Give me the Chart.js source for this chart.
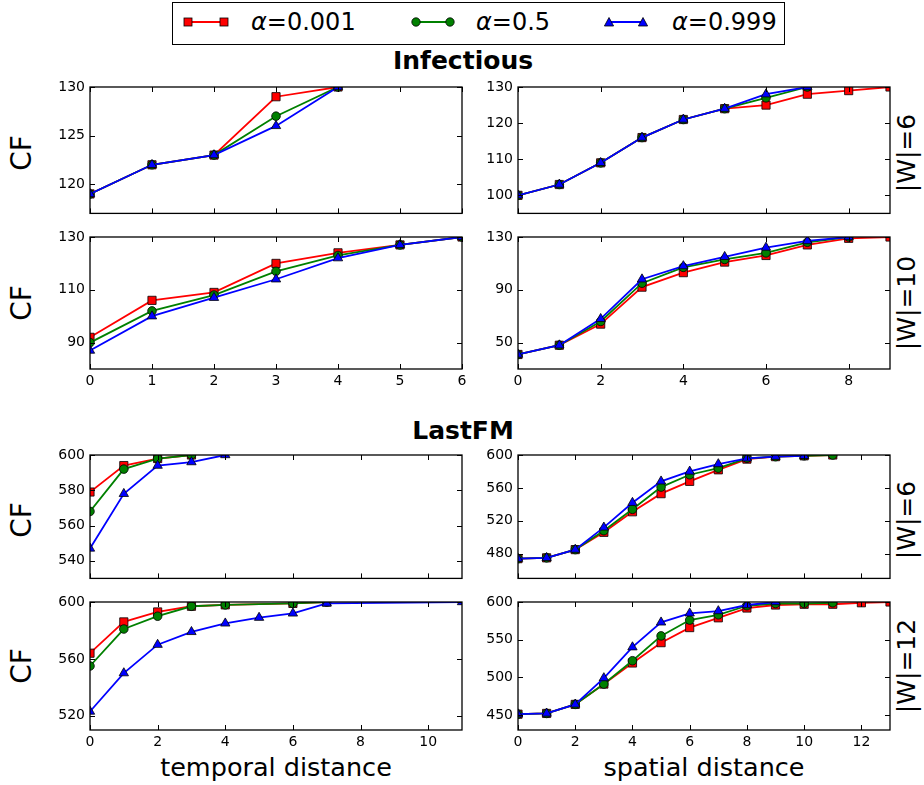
<!DOCTYPE html>
<html>
<head>
<meta charset="utf-8">
<script src="https://cdn.jsdelivr.net/npm/chart.js@4.4.1/dist/chart.umd.min.js"></script>
<style>
  html, body { margin: 0; padding: 0; background: #fff; }
  body { width: 924px; height: 785px; position: relative; overflow: hidden;
         font-family: 'DejaVu Sans', sans-serif; color: #000; }
  .panel { position: absolute; }
  .txt { position: absolute; white-space: nowrap; line-height: 1; }
  .rot { transform: translate(-50%, -50%) rotate(-90deg); }
  .hc { transform: translateX(-50%); }
  .title { font-weight: bold; font-size: 25px; }
  .axlab { font-size: 25.5px; }
  .rowlab { font-size: 28px; }
  .sidelab { font-size: 25px; }
  #legend { position: absolute; left: 172px; top: 2px; width: 611px; height: 41px;
            border: 1px solid #000; }
  .legtxt { font-size: 24px; }
  .legtxt i { font-family: 'DejaVu Sans', sans-serif; font-style: italic; }
</style>
</head>
<body>

<div id="legend"></div>
<svg style="position:absolute;left:0;top:0" width="924" height="50">
  <line x1="188" y1="22" x2="224" y2="22" stroke="#ff0000" stroke-width="1.8"/>
  <rect x="184" y="18" width="8" height="8" fill="#ff0000" stroke="#000" stroke-width="0.8"/>
  <rect x="220" y="18" width="8" height="8" fill="#ff0000" stroke="#000" stroke-width="0.8"/>
  <line x1="416" y1="22" x2="450" y2="22" stroke="#008000" stroke-width="1.8"/>
  <circle cx="416" cy="22" r="4.2" fill="#008000" stroke="#000" stroke-width="0.8"/>
  <circle cx="450" cy="22" r="4.2" fill="#008000" stroke="#000" stroke-width="0.8"/>
  <line x1="609" y1="22" x2="643" y2="22" stroke="#0000ff" stroke-width="1.8"/>
  <polygon points="609,17.5 613.6,26 604.4,26" fill="#0000ff" stroke="#000" stroke-width="0.8"/>
  <polygon points="643,17.5 647.6,26 638.4,26" fill="#0000ff" stroke="#000" stroke-width="0.8"/>
</svg>
<div class="txt legtxt" style="left:251px;top:10px"><i>α</i>=0.001</div>
<div class="txt legtxt" style="left:476px;top:10px"><i>α</i>=0.5</div>
<div class="txt legtxt" style="left:672px;top:10px"><i>α</i>=0.999</div>

<div class="txt title hc" style="left:463px;top:48px">Infectious</div>
<div class="txt title hc" style="left:463px;top:418px">LastFM</div>

<div class="txt rowlab rot" style="left:22px;top:153px">CF</div>
<div class="txt rowlab rot" style="left:22px;top:303px">CF</div>
<div class="txt rowlab rot" style="left:22px;top:520px">CF</div>
<div class="txt rowlab rot" style="left:22px;top:666px">CF</div>

<div class="txt sidelab rot" style="left:906px;top:153px">|W|=6</div>
<div class="txt sidelab rot" style="left:906px;top:303px">|W|=10</div>
<div class="txt sidelab rot" style="left:906px;top:520px">|W|=6</div>
<div class="txt sidelab rot" style="left:906px;top:666px">|W|=12</div>

<div class="txt axlab hc" style="left:276px;top:755px">temporal distance</div>
<div class="txt axlab hc" style="left:704px;top:755px">spatial distance</div>

<script>
// ---- Series data: CF value by distance, for alpha = 0.001 / 0.5 / 0.999 ----

// Infectious, temporal distance, |W|=6
const infTempW6X     = [0, 1, 2, 3, 4];
const infTempW6A001  = [119, 122, 123, 129, 130];
const infTempW6A05   = [119, 122, 123, 127, 130];
const infTempW6A999  = [119, 122, 123, 126, 130];

// Infectious, temporal distance, |W|=10
const infTempW10X    = [0, 1, 2, 3, 4, 5, 6];
const infTempW10A001 = [92, 106, 109, 120, 124, 127, 130];
const infTempW10A05  = [90, 102, 108, 117, 123, 127, 130];
const infTempW10A999 = [87, 100, 107, 114, 122, 127, 130];

// Infectious, spatial distance, |W|=6
const infSpatW6XA001  = [0, 1, 2, 3, 4, 5, 6, 7, 8, 9];
const infSpatW6XOther = [0, 1, 2, 3, 4, 5, 6, 7];
const infSpatW6A001   = [100, 103, 109, 116, 121, 124, 125, 128, 129, 130];
const infSpatW6A05    = [100, 103, 109, 116, 121, 124, 127, 130];
const infSpatW6A999   = [100, 103, 109, 116, 121, 124, 128, 130];

// Infectious, spatial distance, |W|=10
const infSpatW10XA001  = [0, 1, 2, 3, 4, 5, 6, 7, 8, 9];
const infSpatW10XOther = [0, 1, 2, 3, 4, 5, 6, 7, 8];
const infSpatW10A001   = [41, 48, 64, 92, 103, 111, 116, 124, 129, 130];
const infSpatW10A05    = [41, 48, 66, 95, 107, 113, 118, 126, 130];
const infSpatW10A999   = [41, 48, 68, 98, 108, 115, 122, 127, 130];

// LastFM, temporal distance, |W|=6
const fmTempW6XOther = [0, 1, 2, 3];
const fmTempW6XA999  = [0, 1, 2, 3, 4];
const fmTempW6A001   = [579, 594, 598, 600];
const fmTempW6A05    = [568, 592, 598, 600];
const fmTempW6A999   = [547, 578, 594, 596, 600];

// LastFM, temporal distance, |W|=12
const fmTempW12XOther = [0, 1, 2, 3, 4, 6, 7];
const fmTempW12XA999  = [0, 1, 2, 3, 4, 5, 6, 7, 11];
const fmTempW12A001   = [564, 586, 593, 597, 598, 599, 600];
const fmTempW12A05    = [555, 581, 590, 597, 598, 599, 600];
const fmTempW12A999   = [523, 550, 570, 579, 585, 589, 592, 599, 600];

// LastFM, spatial distance, |W|=6
const fmSpatW6XOther = [0, 1, 2, 3, 4, 5, 6, 7, 8, 9, 10, 11];
const fmSpatW6XA999  = [0, 1, 2, 3, 4, 5, 6, 7, 8, 9, 10];
const fmSpatW6A001   = [474, 475, 485, 506, 531, 553, 568, 582, 595, 598, 599, 600];
const fmSpatW6A05    = [474, 475, 485, 508, 534, 561, 576, 584, 596, 598, 599, 600];
const fmSpatW6A999   = [474, 475, 485, 512, 542, 568, 580, 589, 596, 598, 599];

// LastFM, spatial distance, |W|=12
const fmSpatW12XA001 = [0, 1, 2, 3, 4, 5, 6, 7, 8, 9, 10, 11, 12, 13];
const fmSpatW12XA05  = [0, 1, 2, 3, 4, 5, 6, 7, 8, 9, 10, 11];
const fmSpatW12XA999 = [0, 1, 2, 3, 4, 5, 6, 7, 8, 9];
const fmSpatW12A001  = [451, 452, 464, 491, 519, 546, 566, 579, 592, 596, 597, 597, 599, 600];
const fmSpatW12A05   = [451, 452, 464, 491, 522, 555, 576, 583, 595, 598, 598, 599];
const fmSpatW12A999  = [451, 452, 464, 499, 540, 573, 585, 588, 596, 600];

// ---- Axis ticks and limits ----
const infTempXTicks = [0, 1, 2, 3, 4, 5, 6];
const infSpatXTicks = [0, 2, 4, 6, 8];
const fmTempXTicks  = [0, 2, 4, 6, 8, 10];
const fmSpatXTicks  = [0, 2, 4, 6, 8, 10, 12];
const xMaxByColumn  = { infTemp: 6, infSpat: 9, fmTemp: 11, fmSpat: 13 };

const infTempW6YTicks  = [120, 125, 130];
const infTempW10YTicks = [90, 110, 130];
const infSpatW6YTicks  = [100, 110, 120, 130];
const infSpatW10YTicks = [50, 90, 130];
const fmTempW6YTicks   = [540, 560, 580, 600];
const fmTempW12YTicks  = [520, 560, 600];
const fmSpatW6YTicks   = [480, 520, 560, 600];
const fmSpatW12YTicks  = [450, 500, 550, 600];

const seriesLabels = ['α=0.001', 'α=0.5', 'α=0.999'];

// ---- Look of the three series ----
const seriesStyle = [
  { color: '#ff0000', point: 'rect',     radius: 5.8 },
  { color: '#008000', point: 'circle',   radius: 4.3 },
  { color: '#0000ff', point: 'triangle', radius: 5.4 }
];

// Plot-area rectangles on the page (left/right per column, top/bottom per row)
const COLS = [[90, 462], [518, 890]];
const ROWS = [[87, 219], [237, 369], [455, 584], [602, 730]];
const PAD_L = 50, PAD_T = 12, PAD_R = 14, XLAB_H = 26, TICK = 5;

const panels = [
  { col: 0, row: 0, xs: [infTempW6X, infTempW6X, infTempW6X], ys: [infTempW6A001, infTempW6A05, infTempW6A999],
    xMax: xMaxByColumn.infTemp, xTicks: infTempXTicks, yMin: 117, yMax: 130, yTicks: infTempW6YTicks, xLabels: false },
  { col: 1, row: 0, xs: [infSpatW6XA001, infSpatW6XOther, infSpatW6XOther], ys: [infSpatW6A001, infSpatW6A05, infSpatW6A999],
    xMax: xMaxByColumn.infSpat, xTicks: infSpatXTicks, yMin: 95, yMax: 130, yTicks: infSpatW6YTicks, xLabels: false },
  { col: 0, row: 1, xs: [infTempW10X, infTempW10X, infTempW10X], ys: [infTempW10A001, infTempW10A05, infTempW10A999],
    xMax: xMaxByColumn.infTemp, xTicks: infTempXTicks, yMin: 80, yMax: 130, yTicks: infTempW10YTicks, xLabels: true },
  { col: 1, row: 1, xs: [infSpatW10XA001, infSpatW10XOther, infSpatW10XOther], ys: [infSpatW10A001, infSpatW10A05, infSpatW10A999],
    xMax: xMaxByColumn.infSpat, xTicks: infSpatXTicks, yMin: 30, yMax: 130, yTicks: infSpatW10YTicks, xLabels: true },
  { col: 0, row: 2, xs: [fmTempW6XOther, fmTempW6XOther, fmTempW6XA999], ys: [fmTempW6A001, fmTempW6A05, fmTempW6A999],
    xMax: xMaxByColumn.fmTemp, xTicks: fmTempXTicks, yMin: 530, yMax: 600, yTicks: fmTempW6YTicks, xLabels: false },
  { col: 1, row: 2, xs: [fmSpatW6XOther, fmSpatW6XOther, fmSpatW6XA999], ys: [fmSpatW6A001, fmSpatW6A05, fmSpatW6A999],
    xMax: xMaxByColumn.fmSpat, xTicks: fmSpatXTicks, yMin: 450, yMax: 600, yTicks: fmSpatW6YTicks, xLabels: false },
  { col: 0, row: 3, xs: [fmTempW12XOther, fmTempW12XOther, fmTempW12XA999], ys: [fmTempW12A001, fmTempW12A05, fmTempW12A999],
    xMax: xMaxByColumn.fmTemp, xTicks: fmTempXTicks, yMin: 510, yMax: 600, yTicks: fmTempW12YTicks, xLabels: true },
  { col: 1, row: 3, xs: [fmSpatW12XA001, fmSpatW12XA05, fmSpatW12XA999], ys: [fmSpatW12A001, fmSpatW12A05, fmSpatW12A999],
    xMax: xMaxByColumn.fmSpat, xTicks: fmSpatXTicks, yMin: 430, yMax: 600, yTicks: fmSpatW12YTicks, xLabels: true }
];

// Box frame with inward tick marks on all four sides
const framePlugin = {
  id: 'frame',
  afterDraw(chart) {
    const { ctx, chartArea: a, scales: { x, y } } = chart;
    ctx.save();
    ctx.strokeStyle = '#000';
    ctx.lineWidth = 1;
    ctx.beginPath();
    x.ticks.forEach(t => {
      const px = Math.round(x.getPixelForValue(t.value)) + 0.5;
      ctx.moveTo(px, a.bottom); ctx.lineTo(px, a.bottom - TICK);
      ctx.moveTo(px, a.top);    ctx.lineTo(px, a.top + TICK);
    });
    y.ticks.forEach(t => {
      const py = Math.round(y.getPixelForValue(t.value)) + 0.5;
      ctx.moveTo(a.left, py);  ctx.lineTo(a.left + TICK, py);
      ctx.moveTo(a.right, py); ctx.lineTo(a.right - TICK, py);
    });
    ctx.stroke();
    ctx.lineWidth = 1.3;
    ctx.strokeRect(a.left, a.top, a.right - a.left, a.bottom - a.top);
    ctx.restore();
  }
};

const tickFont = { family: "'DejaVu Sans', sans-serif", size: 14 };

function makePanel(p) {
  const [l, r] = COLS[p.col];
  const [t, b] = ROWS[p.row];
  const xAxisH = p.xLabels ? XLAB_H : 1;
  const w = (r - l) + PAD_L + PAD_R;
  const h = (b - t) + PAD_T + xAxisH;

  const box = document.createElement('div');
  box.className = 'panel';
  Object.assign(box.style, { left: (l - PAD_L) + 'px', top: (t - PAD_T) + 'px', width: w + 'px', height: h + 'px' });
  const cv = document.createElement('canvas');
  cv.width = w; cv.height = h;
  cv.style.width = w + 'px'; cv.style.height = h + 'px';
  box.appendChild(cv);
  document.body.appendChild(box);

  const datasets = p.ys.map((vals, i) => ({
    label: seriesLabels[i],
    data: vals.map((v, k) => ({ x: p.xs[i][k], y: v })),
    borderColor: seriesStyle[i].color,
    backgroundColor: seriesStyle[i].color,
    borderWidth: 1.8,
    pointStyle: seriesStyle[i].point,
    pointRadius: seriesStyle[i].radius,
    pointBackgroundColor: seriesStyle[i].color,
    pointBorderColor: '#000',
    pointBorderWidth: 0.8,
    tension: 0,
    clip: 0,
    order: 3 - i
  }));

  new Chart(cv, {
    type: 'line',
    data: { datasets },
    options: {
      responsive: false,
      animation: false,
      devicePixelRatio: 1,
      events: [],
      layout: { padding: { left: 0, top: PAD_T, right: PAD_R, bottom: 0 } },
      plugins: { legend: { display: false }, tooltip: { enabled: false } },
      scales: {
        x: {
          type: 'linear', min: 0, max: p.xMax,
          afterBuildTicks: s => { s.ticks = p.xTicks.map(v => ({ value: v })); },
          afterFit: s => { s.height = xAxisH; s.paddingLeft = 0; s.paddingRight = 0; },
          grid: { display: false, drawTicks: false },
          border: { display: false },
          ticks: { display: p.xLabels, autoSkip: false, maxRotation: 0, padding: 4,
                   color: '#000', font: tickFont, callback: v => String(v) }
        },
        y: {
          type: 'linear', min: p.yMin, max: p.yMax,
          afterBuildTicks: s => { s.ticks = p.yTicks.map(v => ({ value: v })); },
          afterFit: s => { s.width = PAD_L; s.paddingTop = 0; s.paddingBottom = 0; },
          grid: { display: false, drawTicks: false },
          border: { display: false },
          ticks: { autoSkip: false, padding: 5, color: '#000', font: tickFont, callback: v => String(v) }
        }
      }
    },
    plugins: [framePlugin]
  });
}

panels.forEach(makePanel);
</script>
</body>
</html>
